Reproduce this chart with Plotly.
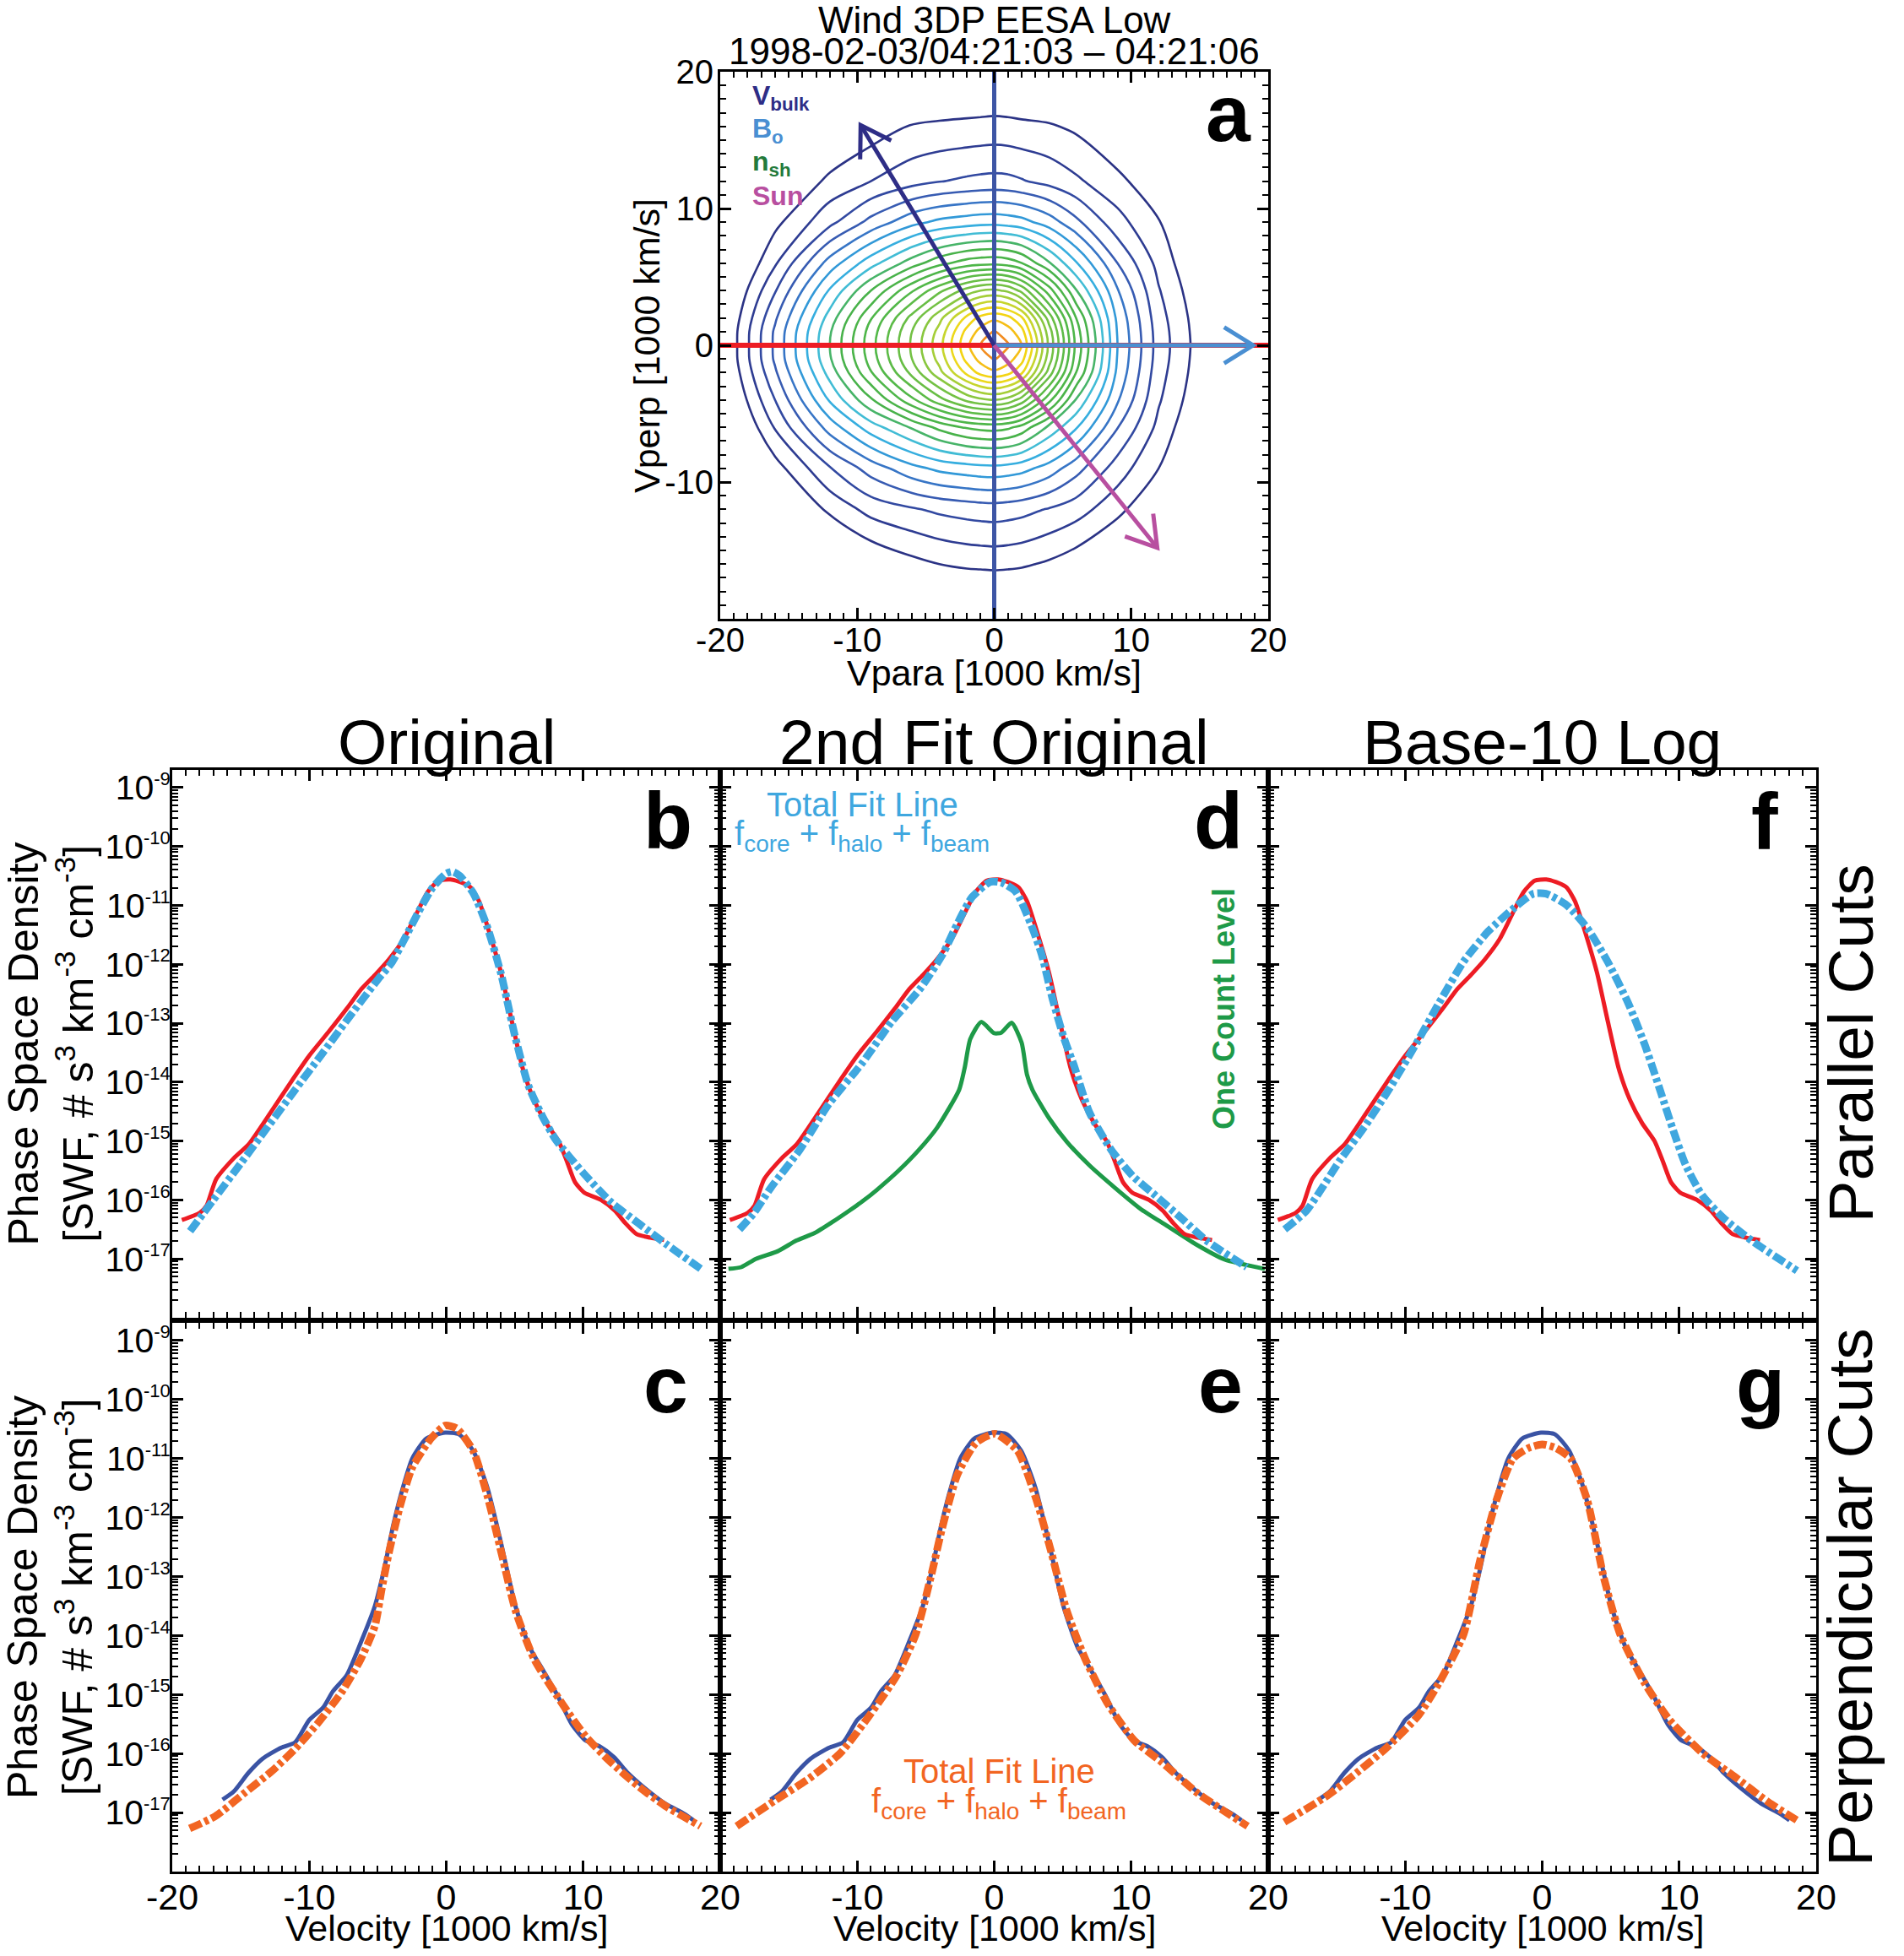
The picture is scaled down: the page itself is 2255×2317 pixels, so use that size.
import math
import plotly.graph_objects as go

W, H = 2255, 2317
FONT = "Liberation Sans, Arial, Helvetica, sans-serif"

# ---------------- Panel a : 2D velocity distribution (log10 of phase space density) ----------------
vpara_nodes = [-20, -16, -12, -9, -6, -4, -2, -1, 0, 1, 2, 4, 6, 9, 12, 16, 20]
vperp_nodes = [-20, -16, -12, -9, -6, -4, -2, -1, 0, 1, 2, 4, 6, 9, 12, 16, 20]
logf_grid = [
    [-18.00, -17.62, -17.30, -17.09, -16.93, -16.86, -16.82, -16.81, -16.80, -16.81, -16.82, -16.88, -16.98, -17.18, -17.41, -17.78, -18.22],
    [-17.64, -17.19, -16.75, -16.50, -16.33, -16.25, -16.20, -16.19, -16.18, -16.19, -16.21, -16.29, -16.41, -16.66, -16.96, -17.41, -17.89],
    [-17.30, -16.70, -16.19, -15.91, -15.78, -15.70, -15.65, -15.63, -15.62, -15.64, -15.67, -15.77, -15.89, -16.17, -16.53, -17.07, -17.60],
    [-17.05, -16.36, -15.77, -15.39, -15.08, -14.94, -14.87, -14.84, -14.83, -14.86, -14.91, -15.11, -15.41, -15.87, -16.25, -16.85, -17.43],
    [-16.83, -15.98, -15.14, -14.62, -14.22, -13.93, -13.72, -13.67, -13.65, -13.70, -13.84, -14.31, -14.73, -15.49, -16.07, -16.68, -17.31],
    [-16.72, -15.75, -14.72, -14.04, -13.31, -12.84, -12.44, -12.31, -12.25, -12.35, -12.61, -13.42, -14.28, -15.22, -15.97, -16.60, -17.25],
    [-16.64, -15.54, -14.40, -13.52, -12.67, -12.08, -11.43, -11.17, -11.06, -11.17, -11.46, -12.61, -13.76, -15.06, -15.90, -16.55, -17.21],
    [-16.61, -15.46, -14.28, -13.39, -12.50, -11.91, -11.17, -10.92, -10.73, -10.89, -11.15, -12.38, -13.63, -15.02, -15.87, -16.54, -17.20],
    [-16.61, -15.45, -14.25, -13.35, -12.46, -11.84, -11.06, -10.75, -10.56, -10.72, -11.00, -12.30, -13.58, -15.00, -15.86, -16.53, -17.20],
    [-16.61, -15.46, -14.28, -13.39, -12.50, -11.91, -11.17, -10.92, -10.73, -10.89, -11.15, -12.38, -13.63, -15.02, -15.87, -16.54, -17.20],
    [-16.64, -15.54, -14.39, -13.52, -12.66, -12.08, -11.43, -11.17, -11.06, -11.17, -11.46, -12.61, -13.76, -15.06, -15.90, -16.55, -17.21],
    [-16.71, -15.77, -14.72, -14.00, -13.28, -12.81, -12.40, -12.25, -12.20, -12.30, -12.57, -13.38, -14.24, -15.23, -15.98, -16.60, -17.25],
    [-16.80, -16.03, -15.14, -14.60, -14.12, -13.83, -13.63, -13.58, -13.56, -13.61, -13.74, -14.22, -14.73, -15.50, -16.08, -16.67, -17.30],
    [-17.00, -16.32, -15.82, -15.42, -15.08, -14.94, -14.87, -14.84, -14.83, -14.86, -14.91, -15.12, -15.44, -15.91, -16.23, -16.81, -17.40],
    [-17.22, -16.63, -16.18, -16.00, -15.84, -15.76, -15.71, -15.69, -15.68, -15.69, -15.73, -15.83, -15.96, -16.17, -16.47, -17.00, -17.55],
    [-17.53, -17.04, -16.63, -16.39, -16.23, -16.20, -16.18, -16.17, -16.16, -16.17, -16.19, -16.22, -16.30, -16.55, -16.84, -17.30, -17.81],
    [-17.89, -17.46, -17.10, -16.89, -16.74, -16.68, -16.65, -16.64, -16.63, -16.64, -16.65, -16.70, -16.79, -16.98, -17.23, -17.64, -18.12],
]
contour_start, contour_end, contour_step = -16.25, -10.75, 0.25

# cut directions drawn in panel a (span along the axis)
cut_span = [-20, 20]
cut_zero = [0, 0]
# vectors drawn in panel a [Vpara, Vperp]
vec_bulk = [-9.75, 16.1]
vec_bo = [18.9, 0.0]
vec_sun = [11.9, -14.8]
legend_a = ["V<sub>bulk</sub>", "B<sub>o</sub>", "n<sub>sh</sub>", "Sun"]

# ---------------- Parallel cuts (b, d, f) ----------------
par_v = [-19.3, -18.0, -17.5, -16.8, -15.5, -14.4, -12.8, -11.4, -10.0, -8.6, -7.25, -6.2, -5.2, -4.2,
         -3.1, -2.15, -1.35, -0.55, 0.3, 1.2, 1.8, 2.4, 3.2, 4.0, 4.8, 5.6, 6.4, 7.3, 8.2, 8.8, 9.4,
         10.1, 11.3, 12.3, 13.1, 13.9, 14.9, 15.9]
par_f = [4.57e-17, 6.03e-17, 7.94e-17, 2.24e-16, 5.13e-16, 8.91e-16, 3.09e-15, 9.55e-15, 2.82e-14,
         7.08e-14, 1.78e-13, 3.80e-13, 6.61e-13, 1.20e-12, 2.69e-12, 7.41e-12, 1.70e-11, 2.63e-11,
         2.75e-11, 2.40e-11, 2.00e-11, 1.17e-11, 3.16e-12, 7.24e-13, 1.05e-13, 1.66e-14, 5.01e-15,
         2.00e-15, 1.00e-15, 4.57e-16, 2.00e-16, 1.32e-16, 1.00e-16, 6.61e-17, 3.98e-17, 2.63e-17,
         2.29e-17, 2.09e-17]

fit_b_v = [-18.7, -17.0, -15.0, -13.0, -11.0, -9.0, -7.0, -5.0, -4.0, -3.0, -2.0, -1.0, 0.0, 0.5, 1.0,
           2.0, 3.0, 4.0, 5.0, 6.0, 7.0, 8.0, 10.0, 12.0, 14.0, 16.0, 18.7]
fit_b_f = [2.95e-17, 1.00e-16, 4.17e-16, 1.78e-15, 7.59e-15, 3.16e-14, 1.35e-13, 5.50e-13, 1.05e-12,
           2.82e-12, 7.94e-12, 2.00e-11, 3.47e-11, 3.72e-11, 3.16e-11, 1.58e-11, 4.27e-12, 6.92e-13,
           6.31e-14, 8.71e-15, 2.69e-15, 1.05e-15, 2.88e-16, 9.33e-17, 4.07e-17, 1.82e-17, 6.46e-18]

fit_d_v = [-18.6, -17.6, -16.3, -14.2, -12.1, -9.65, -7.5, -5.36, -3.76, -2.69, -1.62, -0.28, 0.52, 1.58,
           2.66, 3.46, 4.26, 5.06, 5.87, 6.94, 8.54, 10.14, 11.75, 13.62, 15.5, 18.43]
fit_d_f = [3.16e-17, 5.75e-17, 1.62e-16, 7.08e-16, 4.17e-15, 2.09e-14, 1.05e-13, 3.98e-13, 1.48e-12,
           4.90e-12, 1.38e-11, 2.51e-11, 2.45e-11, 1.70e-11, 4.90e-12, 1.48e-12, 2.57e-13, 5.89e-14,
           1.78e-14, 3.09e-15, 7.08e-16, 2.51e-16, 1.20e-16, 5.01e-17, 2.04e-17, 7.24e-18]

one_count_v = [-19.4, -18.47, -17.4, -15.8, -14.45, -13.1, -11.78, -10.57, -9.6, -8.57, -6.97, -5.5, -4.16,
               -2.56, -2.15, -1.75, -0.95, 0.0, 0.52, 1.27, 2.0, 2.39, 2.79, 4.0, 5.33, 6.94, 8.8, 10.68,
               12.55, 14.7, 16.82, 19.76]
one_count_f = [6.76e-18, 7.24e-18, 1.00e-17, 1.35e-17, 2.04e-17, 2.75e-17, 4.27e-17, 6.61e-17, 9.55e-17,
               1.48e-16, 3.16e-16, 7.08e-16, 1.70e-15, 7.41e-15, 1.78e-14, 5.37e-14, 1.05e-13, 6.76e-14,
               6.92e-14, 1.02e-13, 4.68e-14, 1.35e-14, 7.41e-15, 2.45e-15, 9.55e-16, 3.89e-16, 1.62e-16,
               7.08e-17, 3.72e-17, 1.78e-17, 9.77e-18, 6.76e-18]

fit_f_v = [-18.8, -17.2, -14.8, -13.0, -11.2, -9.08, -7.54, -5.73, -3.94, -2.14, -0.64, 0.27, 1.77, 3.27,
           4.77, 6.28, 7.48, 8.68, 9.58, 10.48, 11.68, 13.2, 15.3, 18.6]
fit_f_f = [3.16e-17, 6.61e-17, 4.57e-16, 1.70e-15, 7.41e-15, 5.01e-14, 2.19e-13, 1.12e-12, 3.63e-12,
           8.71e-12, 1.58e-11, 1.58e-11, 1.02e-11, 4.17e-12, 1.12e-12, 2.19e-13, 4.37e-14, 6.46e-15,
           1.48e-15, 3.89e-16, 1.20e-16, 5.01e-17, 2.04e-17, 6.31e-18]

# ---------------- Perpendicular cuts (c, e, g) ----------------
perp_v = [-16.33, -15.5, -14.45, -13.42, -12.05, -11.03, -10.0, -8.98, -8.29, -7.26, -6.24, -5.21, -4.53,
          -3.85, -3.16, -2.48, -1.45, -0.08, 0.94, 1.97, 3.0, 4.03, 5.05, 6.07, 7.1, 8.13, 9.16, 10.18,
          11.2, 12.24, 13.26, 14.63, 16.0, 17.37, 18.05]
perp_f = [1.66e-17, 2.29e-17, 4.68e-17, 8.13e-17, 1.26e-16, 1.55e-16, 3.72e-16, 6.03e-16, 1.12e-15,
          2.14e-15, 7.59e-15, 3.16e-14, 1.35e-13, 7.76e-13, 3.24e-12, 1.00e-11, 2.19e-11, 2.75e-11,
          2.57e-11, 1.35e-11, 3.24e-12, 3.47e-13, 3.16e-14, 6.46e-15, 2.51e-15, 9.55e-16, 3.16e-16,
          1.66e-16, 1.32e-16, 8.71e-17, 4.68e-17, 2.45e-17, 1.41e-17, 9.55e-18, 7.41e-18]

fit_c_v = [-18.73, -16.84, -14.79, -12.74, -11.03, -9.32, -7.61, -6.24, -5.21, -4.7, -4.19, -3.33, -2.48,
           -1.11, -0.08, 0.77, 1.97, 3.0, 4.03, 5.05, 6.42, 8.48, 10.18, 11.89, 13.95, 16.0, 18.56]
fit_c_f = [5.37e-18, 8.71e-18, 2.09e-17, 5.01e-17, 1.20e-16, 3.39e-16, 1.12e-15, 3.98e-15, 1.45e-14,
           6.31e-14, 2.51e-13, 1.70e-12, 7.08e-12, 2.19e-11, 3.63e-11, 3.24e-11, 1.35e-11, 2.34e-12,
           2.51e-13, 2.69e-14, 3.98e-15, 6.92e-16, 1.95e-16, 7.59e-17, 2.88e-17, 1.29e-17, 5.89e-18]

fit_e_v = [-18.8, -15.9, -13.5, -11.23, -9.03, -7.1, -5.73, -4.63, -3.8, -2.7, -1.32, 0.05, 1.7, 3.08,
           4.18, 5.28, 6.65, 8.3, 10.23, 12.15, 14.9, 18.5]
fit_e_f = [5.89e-18, 1.66e-17, 3.80e-17, 1.02e-16, 4.68e-16, 2.14e-15, 1.05e-14, 9.77e-14, 6.61e-13,
           5.25e-12, 1.86e-11, 2.63e-11, 1.35e-11, 2.00e-12, 2.51e-13, 2.69e-14, 3.98e-15, 6.92e-16,
           1.66e-16, 7.41e-17, 2.09e-17, 5.89e-18]

fit_g_v = [-18.82, -15.66, -13.56, -11.45, -9.05, -7.55, -5.74, -4.54, -3.33, -2.13, -1.0, 0.0, 1.0, 2.08,
           3.28, 4.49, 5.69, 7.49, 9.3, 11.7, 14.1, 16.5, 18.6]
fit_g_f = [6.92e-18, 1.95e-17, 4.68e-17, 1.20e-16, 4.37e-16, 1.55e-15, 1.05e-14, 1.86e-13, 2.00e-12,
           1.00e-11, 1.51e-11, 1.74e-11, 1.51e-11, 1.00e-11, 2.00e-12, 9.77e-14, 1.05e-14, 1.55e-15,
           3.72e-16, 1.02e-16, 3.98e-17, 1.51e-17, 7.41e-18]

# ---------------- Labels ----------------
column_titles = ["Original", "2nd Fit Original", "Base-10 Log"]
row_titles = ["Parallel Cuts", "Perpendicular Cuts"]
panel_letters = ["a", "b", "c", "d", "e", "f", "g"]
log_tick_exponents = [-17, -16, -15, -14, -13, -12, -11, -10, -9]
vel_ticks = [-20, -10, 0, 10, 20]

# ---------------- Colours ----------------
RED = "#ED1C24"
FIT_BLUE = "#3FA7DF"
GREEN = "#1E9A48"
PERP_BLUE = "#3A53A4"
ORANGE = "#F26522"
VBULK_C = "#2E2D86"
BO_C = "#4A8FD2"
NSH_C = "#237A3B"
SUN_C = "#B84FA0"
VLINE_C = "#3D55A5"

contour_colorscale = [
    [0.0, "#2B3385"], [0.06, "#2F3F96"], [0.12, "#3553AB"], [0.17, "#3A6AC0"],
    [0.21, "#3190D4"], [0.26, "#33A9E0"], [0.31, "#3DBBDC"], [0.345, "#4CC1BE"],
    [0.37, "#45B04A"], [0.55, "#52B848"], [0.70, "#78C243"], [0.80, "#B6D334"],
    [0.86, "#EBD81C"], [0.93, "#F6D20F"], [0.97, "#F5B21A"], [1.0, "#F28C20"],
]


def PX(x):
    return x / W


def PY(y):
    return 1 - y / H


fig = go.Figure()

# ---- panel a ----
fig.add_trace(go.Contour(
    x=vpara_nodes, y=vperp_nodes, z=logf_grid,
    contours=dict(start=contour_start, end=contour_end, size=contour_step, coloring="lines"),
    colorscale=contour_colorscale, zmin=contour_start, zmax=contour_end, zauto=False,
    line=dict(width=2.6, smoothing=1.0), showscale=False, hoverinfo="skip",
    xaxis="x", yaxis="y"))
fig.add_trace(go.Scatter(x=cut_span, y=cut_zero, mode="lines", line=dict(color=RED, width=6),
                         xaxis="x", yaxis="y", hoverinfo="skip"))
fig.add_trace(go.Scatter(x=cut_zero, y=cut_span, mode="lines", line=dict(color=VLINE_C, width=5),
                         xaxis="x", yaxis="y", hoverinfo="skip"))


def add_arrow(vec, color, head_len=2.5, head_ang=32.0):
    tx, ty = vec
    L = math.hypot(tx, ty)
    ux, uy = -tx / L, -ty / L
    pts = []
    for a in (math.radians(head_ang), -math.radians(head_ang)):
        pts.append((tx + head_len * (ux * math.cos(a) - uy * math.sin(a)),
                    ty + head_len * (ux * math.sin(a) + uy * math.cos(a))))
    fig.add_trace(go.Scatter(x=[0, tx], y=[0, ty], mode="lines", line=dict(color=color, width=5),
                             xaxis="x", yaxis="y", hoverinfo="skip"))
    fig.add_trace(go.Scatter(x=[pts[0][0], tx, pts[1][0]], y=[pts[0][1], ty, pts[1][1]], mode="lines",
                             line=dict(color=color, width=5), xaxis="x", yaxis="y", hoverinfo="skip"))


add_arrow(vec_bo, BO_C)
add_arrow(vec_bulk, VBULK_C)
add_arrow(vec_sun, SUN_C)

DASHDOT = "15px,4px,5px,4px"


def line(xs, ys, color, width, ax, dash=None):
    fig.add_trace(go.Scatter(x=xs, y=ys, mode="lines",
                             line=dict(color=color, width=width, dash=dash, shape="spline", smoothing=0.6),
                             xaxis=ax[0], yaxis=ax[1], hoverinfo="skip"))


# b
line(par_v, par_f, RED, 5, ("x2", "y2"))
line(fit_b_v, fit_b_f, FIT_BLUE, 9, ("x2", "y2"), DASHDOT)
# d
line(one_count_v, one_count_f, GREEN, 5, ("x4", "y4"))
line(par_v, par_f, RED, 5, ("x4", "y4"))
line(fit_d_v, fit_d_f, FIT_BLUE, 9, ("x4", "y4"), DASHDOT)
# f
line(par_v, par_f, RED, 5, ("x6", "y6"))
line(fit_f_v, fit_f_f, FIT_BLUE, 9, ("x6", "y6"), DASHDOT)
# c, e, g
line(perp_v, perp_f, PERP_BLUE, 5, ("x3", "y3"))
line(fit_c_v, fit_c_f, ORANGE, 9, ("x3", "y3"), DASHDOT)
line(perp_v, perp_f, PERP_BLUE, 5, ("x5", "y5"))
line(fit_e_v, fit_e_f, ORANGE, 9, ("x5", "y5"), DASHDOT)
line(perp_v, perp_f, PERP_BLUE, 5, ("x7", "y7"))
line(fit_g_v, fit_g_f, ORANGE, 9, ("x7", "y7"), DASHDOT)

# ---------------- axes ----------------
base = dict(showline=True, linecolor="black", linewidth=3, mirror="ticks", ticks="inside",
            ticklen=13, tickwidth=2.5, tickcolor="black", showgrid=False, zeroline=False,
            automargin=False, layer="above traces")
x_minor = dict(ticks="inside", ticklen=7, tickwidth=2, tickcolor="black", tickmode="linear",
               tick0=0, dtick=1, showgrid=False)
log_minor_vals = [k * 10.0 ** e for e in range(-18, -8) for k in range(2, 10)]
y_minor = dict(ticks="inside", ticklen=7, tickwidth=2, tickcolor="black", tickmode="array",
               tickvals=log_minor_vals, showgrid=False)

cols = [(204, 853), (853, 1502), (1502, 2151)]
rows = [(912, 1561), (1567, 2217)]

layout_axes = {}
tf_a = dict(family=FONT, size=40, color="black")
layout_axes["xaxis"] = dict(base, domain=[PX(853), PX(1502)], anchor="y", range=[-20, 20],
                            tickmode="array", tickvals=vel_ticks, ticktext=[str(v) for v in vel_ticks],
                            minor=x_minor, tickfont=tf_a, ticklabelstandoff=-12)
layout_axes["yaxis"] = dict(base, domain=[PY(733), PY(85)], anchor="x", range=[-20, 20],
                            tickmode="array", tickvals=vel_ticks,
                            ticktext=[""] + [str(v) for v in vel_ticks[1:]], minor=x_minor, tickfont=tf_a,
                            ticklabelstandoff=-3)

tf_x = dict(family=FONT, size=43, color="black")
tf_y = dict(family=FONT, size=41, color="black")
log_ticktext = ['10<sup><span style="font-size:22px">%d</span></sup>' % e for e in log_tick_exponents]
grid = {2: (0, 0), 3: (0, 1), 4: (1, 0), 5: (1, 1), 6: (2, 0), 7: (2, 1)}
for i, (c, r) in grid.items():
    x0, x1 = cols[c]
    y0, y1 = rows[r]
    xt = vel_ticks if c == 0 else vel_ticks[1:]
    layout_axes["xaxis%d" % i] = dict(base, domain=[PX(x0), PX(x1)], anchor="y%d" % i, range=[-20, 20],
                                      tickmode="array", tickvals=xt, ticktext=[str(v) for v in xt],
                                      showticklabels=(r == 1), minor=x_minor, tickfont=tf_x,
                                      ticklabelstandoff=-10)
    layout_axes["yaxis%d" % i] = dict(base, domain=[PY(y1), PY(y0)], anchor="x%d" % i, type="log",
                                      range=[-18, -8.7], tickmode="array",
                                      tickvals=[10.0 ** e for e in log_tick_exponents],
                                      ticktext=log_ticktext,
                                      showticklabels=(c == 0), minor=y_minor, tickfont=tf_y,
                                      ticklabelstandoff=-9)

# ---------------- annotations ----------------
ann = []


def text(t, x, y, size, color="black", bold=False, angle=0, xanchor="center", yanchor="middle"):
    ann.append(dict(text=("<b>%s</b>" % t) if bold else t, x=PX(x), y=PY(y), xref="paper", yref="paper",
                    showarrow=False, textangle=angle, xanchor=xanchor, yanchor=yanchor,
                    font=dict(family=FONT, size=size, color=color)))


text("Wind 3DP EESA Low", 1178, 23, 44)
text("1998-02-03/04:21:03 \u2013 04:21:06", 1178, 61, 44)
text("Vpara [1000 km/s]", 1178, 797, 43)
text("Vperp [1000 km/s]", 766, 409, 43, angle=-90)

for t, (x0, x1) in zip(column_titles, cols):
    text(t, (x0 + x1) / 2, 879, 75)
    text("Velocity [1000 km/s]", (x0 + x1) / 2, 2284, 43)
for t, (y0, y1) in zip(row_titles, rows):
    text(t, 2191, (y0 + y1) / 2, 75, angle=-90)
    text("Phase Space Density", 27, (y0 + y1) / 2, 50, angle=-90)
    text("[SWF, # s<sup>3</sup> km<sup>-3</sup> cm<sup>-3</sup>]", 88, (y0 + y1) / 2, 50, angle=-90)

letter_pos = {"a": (1484, 134), "b": (822, 972), "d": (1474, 972), "f": (2108, 973),
              "c": (817, 1640), "e": (1474, 1640), "g": (2116, 1640)}
for L in panel_letters:
    x, y = letter_pos[L]
    text(L, x, y, 95, bold=True, xanchor="right")

# panel a legend
for t, c, y in zip(legend_a, [VBULK_C, BO_C, NSH_C, SUN_C], [115, 154, 193, 232]):
    text(t, 889, y, 32, color=c, bold=True, xanchor="left")

# fit legends
fit_label = "f<sub>core</sub> + f<sub>halo</sub> + f<sub>beam</sub>"
text("Total Fit Line", 1021, 953, 40, color=FIT_BLUE)
text(fit_label, 1021, 990, 40, color=FIT_BLUE)
text("Total Fit Line", 1183, 2098, 40, color=ORANGE)
text(fit_label, 1183, 2136, 40, color=ORANGE)
text("One Count Level", 1449, 1195, 36, color=GREEN, bold=True, angle=-90)

fig.update_layout(width=W, height=H, autosize=False, margin=dict(l=0, r=0, t=0, b=0, autoexpand=False),
                  paper_bgcolor="white", plot_bgcolor="rgba(0,0,0,0)", showlegend=False,
                  font=dict(family=FONT, color="black"), annotations=ann, **layout_axes)

fig.write_html("out.html")
